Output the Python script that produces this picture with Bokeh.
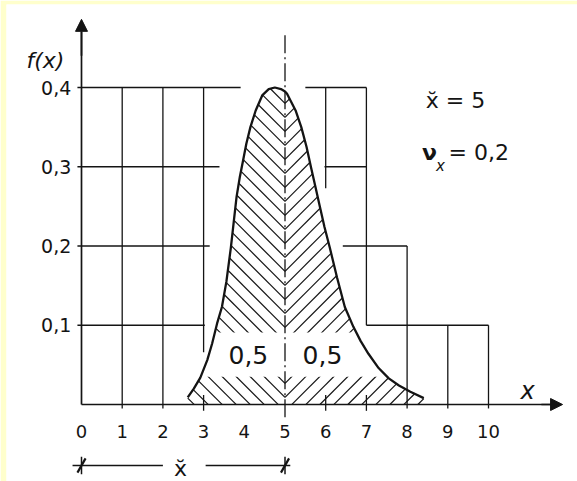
import numpy as np
from bokeh.plotting import figure
from bokeh.models import Range1d, Arrow, NormalHead
from bokeh.core.properties import value
from bokeh.embed import file_html
from bokeh.resources import INLINE

# ---- data -------------------------------------------------------------
# density f(x) (median 5, coefficient of variation 0,2)
curve_x = [2.61, 2.76, 2.92, 3.09, 3.21, 3.33, 3.45, 3.56, 3.67, 3.74, 3.81,
           3.89, 3.97, 4.05, 4.15, 4.28, 4.44, 4.60, 4.75, 4.90, 5.00, 5.05,
           5.26, 5.40, 5.53, 5.64, 5.75, 5.86, 5.97, 6.10, 6.28, 6.47, 6.68,
           6.86, 7.05, 7.30, 7.55, 7.80, 8.08, 8.41]
curve_y = [0.009, 0.020, 0.034, 0.056, 0.077, 0.102, 0.123, 0.155, 0.198,
           0.230, 0.262, 0.287, 0.308, 0.329, 0.350, 0.371, 0.390, 0.398,
           0.400, 0.398, 0.395, 0.392, 0.371, 0.350, 0.325, 0.299, 0.274,
           0.249, 0.224, 0.198, 0.160, 0.123, 0.098, 0.080, 0.064, 0.046,
           0.033, 0.024, 0.016, 0.008]
median = 5
area_labels = ["0,5", "0,5"]
area_label_x = [4.10, 5.92]

x_ticks = list(range(0, 11))
x_tick_labels = [str(v) for v in x_ticks]
y_ticks = [0.1, 0.2, 0.3, 0.4]
y_tick_labels = ["0,1", "0,2", "0,3", "0,4"]

# background box outline: horizontal runs (y, x0 -> x1) and vertical runs (x, y0 -> y1)
h_y = [0.4, 0.4, 0.3, 0.3, 0.2, 0.2, 0.1, 0.1]
h_x0 = [-0.1, 5.50, -0.1, 5.97, -0.1, 6.42, -0.1, 7.0]
h_x1 = [3.91, 7.00, 3.39, 7.00, 3.15, 8.00, 3.03, 10.0]
v_x = [1, 2, 3, 6, 7, 8, 9, 10]
v_y0 = [-0.005, -0.005, 0.066, 0.273, 0.100, -0.005, -0.005, -0.005]
v_y1 = [0.4, 0.4, 0.4, 0.4, 0.4, 0.2, 0.1, 0.1]
short_ticks = [3, 6, 7]

# ---- layout -----------------------------------------------------------
W, H = 577, 481
PX_X, PX_Y = 40.7, 792.5          # pixels per data unit
ORIGIN = (81, 404)                 # pixel position of (0, 0)
PAD_L, PAD_T = 6, 4

x0 = (PAD_L - ORIGIN[0]) / PX_X
x1 = (W - ORIGIN[0]) / PX_X
y0 = (ORIGIN[1] - H) / PX_Y
y1 = (ORIGIN[1] - PAD_T) / PX_Y

INK = "#141414"
FONT = value("DejaVu Sans")

p = figure(width=W, height=H, x_range=Range1d(x0, x1), y_range=Range1d(y0, y1),
           x_axis_type=None, y_axis_type=None, output_backend="svg",
           toolbar_location=None, min_border_left=PAD_L, min_border_top=PAD_T,
           min_border_right=0, min_border_bottom=0)
p.grid.visible = False
p.outline_line_color = None
p.background_fill_color = "white"
p.border_fill_color = "#FFFFCC"

cx = np.array(curve_x)
cy = np.array(curve_y)

# ---- herringbone hatching under the curve -------------------------------
# 45-degree strokes (in screen space) meeting in chevrons on the median line
slope = PX_X / PX_Y               # data-y per data-x for a 45-degree stroke
step = 14 / PX_Y                  # vertical distance between chevrons
phase = 0.009
f_med = float(np.interp(median, cx, cy))


def strokes(side):
    xs = (np.linspace(cx[0], median, 800) if side < 0
          else np.linspace(median, cx[-1], 800))
    fs = np.interp(xs, cx, cy)
    sx0, sy0, sx1, sy1 = [], [], [], []
    k = int(np.floor((-0.2 - phase) / step))
    while True:
        v = phase + k * step
        if v > f_med:
            break
        k += 1
        ys = v + slope * np.abs(xs - median)
        inside = (ys >= 0) & (ys <= fs)
        if not inside.any():
            continue
        xi = xs[inside]
        a, b = xi.min(), xi.max()
        sx0.append(a); sy0.append(v + slope * abs(a - median))
        sx1.append(b); sy1.append(v + slope * abs(b - median))
    return sx0, sy0, sx1, sy1


for side in (-1, 1):
    a0, b0, a1, b1 = strokes(side)
    p.segment(x0=a0, y0=b0, x1=a1, y1=b1, line_color=INK, line_width=1.2)

# clear band behind the "0,5" labels
band_lo, band_hi = 0.035, 0.091
peak = int(np.argmax(cy))
ys = np.linspace(band_lo, band_hi, 12)
xl = np.interp(ys, cy[:peak + 1], cx[:peak + 1])
xr = np.interp(ys, cy[peak:][::-1], cx[peak:][::-1])
p.patch(np.concatenate([xl, xr[::-1]]), np.concatenate([ys, ys[::-1]]),
        fill_color="white", line_color=None)

# box outlines
p.segment(x0=h_x0, y0=h_y, x1=h_x1, y1=h_y, line_color=INK, line_width=1.3)
p.segment(x0=v_x, y0=v_y0, x1=v_x, y1=v_y1, line_color=INK, line_width=1.3)
p.segment(x0=short_ticks, y0=[-0.008] * len(short_ticks), x1=short_ticks,
          y1=[0.012] * len(short_ticks), line_color=INK, line_width=1.3)

# median line
p.line([median, median], [-0.016, 0.466], line_color=INK, line_width=1.3,
       line_dash="18 4 2 4")

# density curve
p.line(cx, cy, line_color=INK, line_width=2.3)

# axes with arrow heads
p.line([0, 0], [0, 0.47], line_color=INK, line_width=1.7)
p.line([0, 11.6], [0, 0], line_color=INK, line_width=1.7)
p.add_layout(Arrow(x_start=0, y_start=0.44, x_end=0, y_end=0.486,
                   line_color=INK, line_width=1.7,
                   end=NormalHead(size=12, fill_color=INK, line_color=INK)))
p.add_layout(Arrow(x_start=11.3, y_start=0, x_end=11.82, y_end=0,
                   line_color=INK, line_width=1.7,
                   end=NormalHead(size=12, fill_color=INK, line_color=INK)))

# tick labels
p.text(x=x_ticks, y=[-0.034] * len(x_ticks), text=x_tick_labels,
       text_font=FONT, text_font_size="18px", text_align="center",
       text_baseline="middle", text_color=INK)
p.text(x=[-0.25] * len(y_ticks), y=y_ticks, text=y_tick_labels,
       text_font=FONT, text_font_size="19px", text_align="right",
       text_baseline="middle", text_color=INK)

# axis names
p.text(x=[-0.885], y=[0.434], text=["f(x)"], text_font=FONT,
       text_font_size="22px", text_font_style="italic", text_align="center",
       text_baseline="middle", text_color=INK)
p.text(x=[10.96], y=[0.017], text=["x"], text_font=FONT,
       text_font_size="24px", text_font_style="italic", text_align="center",
       text_baseline="middle", text_color=INK)

# areas either side of the median
p.text(x=area_label_x, y=[0.062, 0.062], text=area_labels, text_font=FONT,
       text_font_size="25px", text_align="center", text_baseline="middle",
       text_color=INK)

# parameters
p.text(x=[9.19], y=[0.384], text=["x\u0306 = 5"], text_font=FONT,
       text_font_size="22px", text_align="center", text_baseline="middle",
       text_color=INK)
p.text(x=[8.55], y=[0.318], text=["\u03bd"], text_font=FONT,
       text_font_size="22px", text_font_style="bold", text_align="center",
       text_baseline="middle", text_color=INK)
p.text(x=[8.82], y=[0.301], text=["x"], text_font=FONT,
       text_font_size="15px", text_font_style="italic", text_align="center",
       text_baseline="middle", text_color=INK)
p.text(x=[9.02], y=[0.318], text=["= 0,2"], text_font=FONT,
       text_font_size="22px", text_align="left", text_baseline="middle",
       text_color=INK)

# dimension line for the median below the axis
dim_y = -0.077
p.segment(x0=[-0.22, 3.05], y0=[dim_y, dim_y], x1=[2.0, median + 0.13],
          y1=[dim_y, dim_y], line_color=INK, line_width=1.5)
ends = [0, median]
p.segment(x0=ends, y0=[dim_y - 0.011] * 2, x1=ends, y1=[dim_y + 0.011] * 2,
          line_color=INK, line_width=1.5)
p.segment(x0=[e - 0.1 for e in ends], y0=[dim_y - 0.009] * 2,
          x1=[e + 0.1 for e in ends], y1=[dim_y + 0.009] * 2,
          line_color=INK, line_width=2.2)
p.text(x=[2.43], y=[dim_y - 0.004], text=["x\u0306"], text_font=FONT,
       text_font_size="22px", text_align="center", text_baseline="middle",
       text_color=INK)

open("out.html", "w").write(file_html(p, INLINE))
